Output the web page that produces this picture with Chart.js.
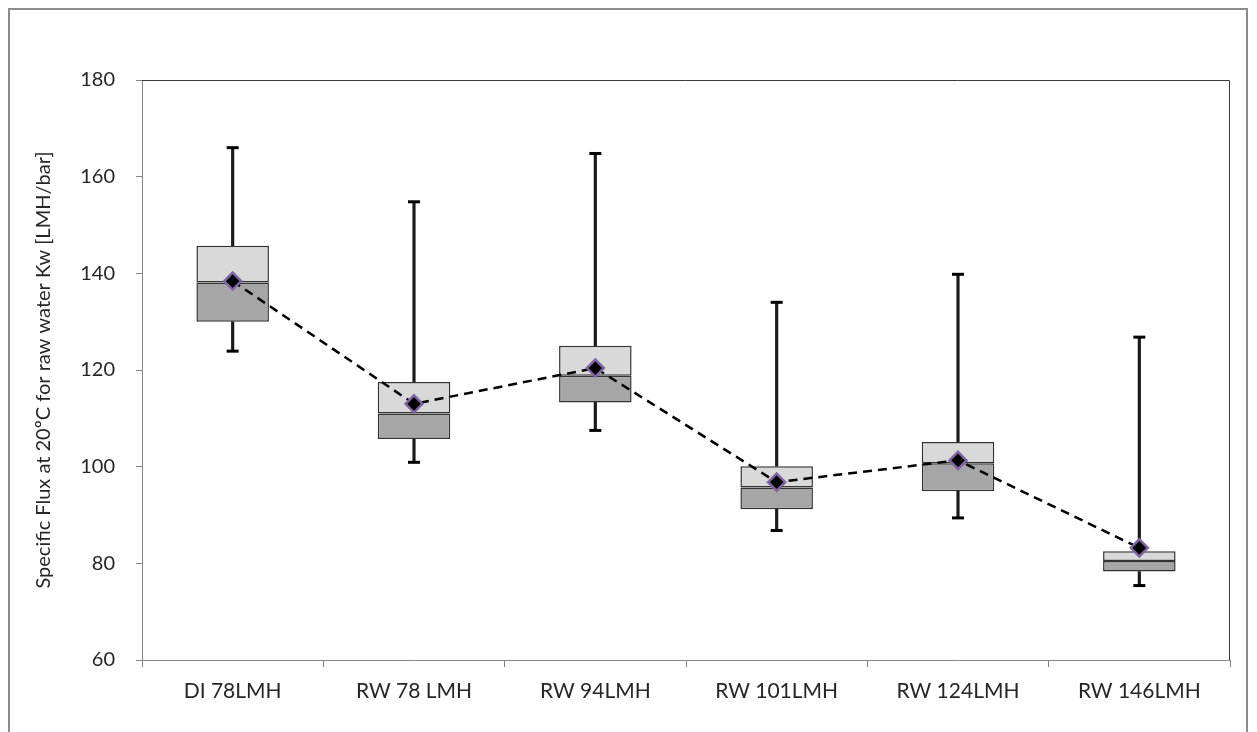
<!DOCTYPE html>
<html>
<head>
<meta charset="utf-8">
<script src="https://cdn.jsdelivr.net/npm/chart.js@4/dist/chart.umd.min.js"></script>
<style>
  html, body { margin: 0; padding: 0; background: #fff; overflow: hidden; }
  #wrap { position: relative; width: 1257px; height: 732px; }
  #frame { position: absolute; left: 8px; top: 8px; width: 1240px; height: 760px; border: 2px solid #8c8c8c; box-sizing: border-box; pointer-events: none; }
  canvas { position: absolute; left: 0; top: 0; }
</style>
</head>
<body>
<div id="wrap">
  <canvas id="c" width="1257" height="732"></canvas>
  <div id="frame"></div>
</div>
<script>
// ---- data ----
const categories = ['DI 78LMH', 'RW 78 LMH', 'RW 94LMH', 'RW 101LMH', 'RW 124LMH', 'RW 146LMH'];
const maxValues    = [166.0, 154.8, 164.8, 134.0, 139.8, 126.8];
const q3Values     = [145.7, 117.5, 125.0, 100.1, 105.1, 82.5];
const medianValues = [138.1, 111.0, 118.8, 95.7, 100.7, 80.5];
const q1Values     = [130.0, 105.7, 113.3, 91.2, 94.9, 78.3];
const minValues    = [123.9, 100.9, 107.5, 86.8, 89.4, 75.4];
const meanValues   = [138.4, 113.0, 120.4, 96.8, 101.3, 83.2];
const yTicks = [60, 80, 100, 120, 140, 160, 180];
const yTitle = 'Specific Flux at 20ºC for raw water Kw [LMH/bar]';

const FONT = 'Lato, "Open Sans", sans-serif';
const pair = (a, b) => a.map((v, i) => [v, b[i]]);

const plotBorder = {
  id: 'plotBorder',
  afterDatasetsDraw(chart) {
    const { ctx, chartArea: a } = chart;
    ctx.save();
    ctx.strokeStyle = '#3a3a3a';
    ctx.lineWidth = 1;
    ctx.beginPath();
    ctx.moveTo(a.left, a.top + 0.5);
    ctx.lineTo(a.right - 0.5, a.top + 0.5);
    ctx.lineTo(a.right - 0.5, a.bottom);
    ctx.stroke();
    ctx.restore();
  }
};

new Chart(document.getElementById('c'), {
  type: 'bar',
  data: {
    labels: categories,
    datasets: [
      {
        type: 'line', label: 'Mean', data: meanValues, order: 0,
        borderColor: '#000', borderWidth: 2.5, borderDash: [9, 6], tension: 0,
        pointStyle: 'rectRot', pointRadius: 8.5, pointHoverRadius: 8.5,
        pointBackgroundColor: '#000', pointBorderColor: '#8064a2', pointBorderWidth: 2.5
      },
      {
        label: 'Upper box', data: pair(medianValues, q3Values), order: 1, grouped: false,
        backgroundColor: '#d9d9d9', borderColor: '#333', borderWidth: 1.5, borderSkipped: false,
        barPercentage: 0.4, categoryPercentage: 1
      },
      {
        label: 'Lower box', data: pair(q1Values, medianValues), order: 1, grouped: false,
        backgroundColor: '#a6a6a6', borderColor: '#333', borderWidth: 1.5, borderSkipped: false,
        barPercentage: 0.4, categoryPercentage: 1
      },
      {
        label: 'Upper whisker', data: pair(q3Values, maxValues), order: 3, grouped: false,
        backgroundColor: '#1a1a1a', borderWidth: 0, barThickness: 2.5
      },
      {
        label: 'Lower whisker', data: pair(minValues, q1Values), order: 3, grouped: false,
        backgroundColor: '#1a1a1a', borderWidth: 0, barThickness: 2.5
      },
      {
        type: 'line', label: 'Max cap', data: maxValues, order: 2, showLine: false,
        pointStyle: 'line', pointRadius: 6, pointHoverRadius: 6,
        pointBorderColor: '#000', pointBorderWidth: 3
      },
      {
        type: 'line', label: 'Min cap', data: minValues, order: 2, showLine: false,
        pointStyle: 'line', pointRadius: 6, pointHoverRadius: 6,
        pointBorderColor: '#000', pointBorderWidth: 3
      }
    ]
  },
  options: {
    responsive: false,
    animation: false,
    events: [],
    layout: { padding: { left: 20, right: 27, top: 80, bottom: 0 } },
    plugins: { legend: { display: false }, tooltip: { enabled: false } },
    scales: {
      x: {
        offset: true,
        grid: { offset: true, drawOnChartArea: false, color: '#868686', tickLength: 7, lineWidth: 1 },
        border: { color: '#868686', width: 1 },
        ticks: { color: '#262626', font: { family: FONT, size: 21 }, padding: 12, maxRotation: 0 },
        afterFit(s) { s.height = 72; }
      },
      y: {
        min: 60, max: 180,
        afterBuildTicks(s) { s.ticks = yTicks.map(v => ({ value: v })); },
        grid: { drawOnChartArea: false, color: '#868686', tickLength: 6 },
        border: { color: '#868686', width: 1 },
        ticks: { color: '#262626', font: { family: FONT, size: 20 }, padding: 21 },
        title: { display: true, text: yTitle, color: '#262626', font: { family: FONT, size: 20 }, padding: { top: 12, bottom: 0 } },
        afterFit(s) { s.width = 122; }
      }
    }
  },
  plugins: [plotBorder]
});
</script>
</body>
</html>
